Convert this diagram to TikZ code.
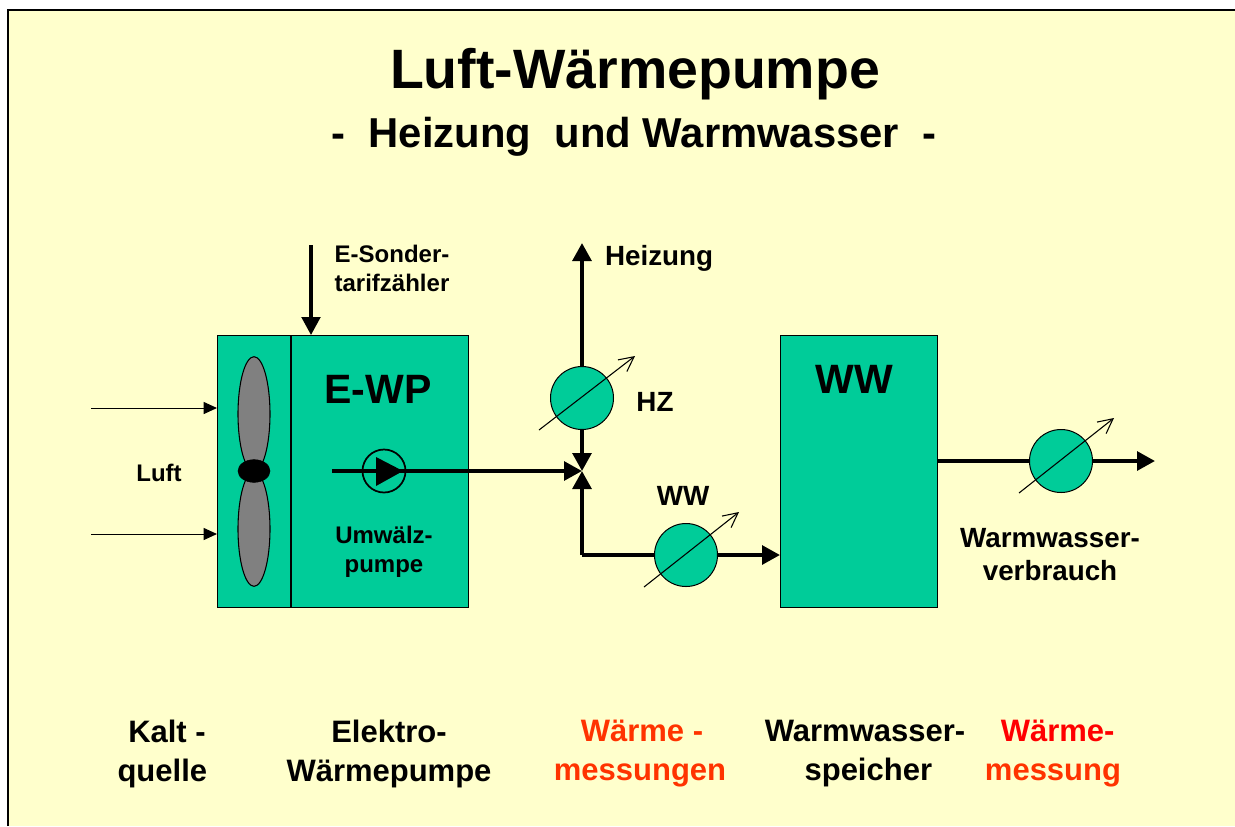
\documentclass[tikz,border=0pt]{standalone}
\usepackage{fontspec}
\setmainfont{Liberation Sans}
\usetikzlibrary{arrows.meta,shapes.geometric}
\definecolor{paper}{HTML}{FFFFCC}
\definecolor{teal}{HTML}{00CC99}
\definecolor{fan}{HTML}{808080}
\definecolor{hot}{HTML}{FF3300}
\newcommand{\fsz}[2]{\fontsize{#1pt}{#2pt}\selectfont\bfseries}
\tikzset{
  x=0.75pt,y=-0.75pt,
  lbl/.style={inner sep=0pt,outer sep=0pt,align=center,text=black},
  titlelbl/.style={lbl,font=\fsz{41.6}{50}},
  sublbl/.style={lbl,font=\fsz{31.35}{36}},
  biglbl/.style={lbl,font=\fsz{30.75}{36}},
  footlbl/.style={lbl,font=\fsz{23.25}{29.25}},
  midlbl/.style={lbl,font=\fsz{20.85}{24.75}},
  smalllbl/.style={lbl,font=\fsz{18}{21.75}},
  unit/.style={draw=black,line width=0.7pt,fill=teal,inner sep=0pt,outer sep=0pt},
  meter/.style={circle,draw=black,line width=0.75pt,fill=teal,minimum size=47.25pt,inner sep=0pt,outer sep=0pt},
  pumpc/.style={circle,draw=black,line width=1.3pt,fill=teal,minimum size=32.25pt,inner sep=0pt,outer sep=0pt},
  pipe/.style={draw=black,line width=3pt,line cap=butt},
  pipetip/.style={pipe,-{Triangle[length=13.5pt,width=14pt]}},
  thinarrow/.style={draw=black,line width=0.75pt,-{Triangle[length=10pt,width=9pt]}},
  dial/.style={draw=black,line width=0.8pt,-{Straight Barb[length=11pt,width=11pt,line width=0.8pt]}},
  blade/.style={ellipse,draw=black,line width=0.8pt,fill=fan}
}
\begin{document}
\begin{tikzpicture}
\useasboundingbox (0,0) rectangle (1235,826);
\fill[white] (0,0) rectangle (1235,826);
\fill[paper] (8,10) rectangle (1235,826);
\draw[black,line width=1.5pt] (8,826) -- (8,10) -- (1235,10);

\node[titlelbl] (title) at (635,74.5) {Luft-Wärmepumpe};
\node[sublbl] (subtitle) at (634,136.5) {-\ \ Heizung\ \ und Warmwasser\ \ -};

% units
\node[unit,minimum width=188.25pt,minimum height=204pt] (ewp) at (342.5,471) {};
\node[unit,minimum width=117.75pt,minimum height=204pt] (wwbox) at (858.5,471) {};
\coordinate (divtop) at (291,335);
\coordinate (divbot) at (291,607);
\draw[black,line width=0.8pt] (divtop) -- (divbot);

% fan
\node[blade,minimum width=24pt,minimum height=86pt,inner sep=0pt] (bladeup) at (254,414) {};
\node[blade,minimum width=24pt,minimum height=86pt,inner sep=0pt] (bladedown) at (254,529) {};
\node[ellipse,fill=black,draw=black,minimum width=24pt,minimum height=17pt,inner sep=0pt] (hub) at (254,471) {};

% air
\coordinate (airA) at (91,408);
\coordinate (airB) at (91,534);
\coordinate (airAend) at (217,408);
\coordinate (airBend) at (217,534);
\draw[thinarrow] (airA) -- (airAend);
\draw[thinarrow] (airB) -- (airBend);

% electricity
\coordinate (estart) at (311,245);
\coordinate (eend) at (311,335);
\draw[pipetip,line width=2.4pt] (estart) -- (eend);

% circuits
\coordinate (junction) at (582,471);
\coordinate (pumpstart) at (332,471);
\coordinate (heizend) at (582,243);
\coordinate (corner) at (582,555);
\coordinate (wwin) at (780,555);
\coordinate (wwout) at (937,461);
\coordinate (useend) at (1155,461);

\node[pumpc] (pump) at (384,471) {};
\node[meter] (mhz) at (582,398) {};
\node[meter] (mww) at (686,555) {};
\node[meter] (muse) at (1061,461) {};

\draw[pipe] (pumpstart) -- (pump.center);
\draw[pipetip] (pump.center) -- (junction);
\draw[pipetip] (mhz) -- (junction);
\draw[pipetip] (mhz) -- (heizend);
\draw[pipe] (mww) -- (corner);
\draw[pipetip] (corner) -- (junction);
\draw[pipetip] (mww) -- (wwin);
\draw[pipe] (wwout) -- (muse);
\draw[pipetip] (muse) -- (useend);
\fill[black] (376,457) -- (403,471) -- (376,486) -- cycle;

% dials
\coordinate (dAa) at (539,430);
\coordinate (dAb) at (635,356);
\coordinate (dBa) at (644,587);
\coordinate (dBb) at (739,512);
\coordinate (dCa) at (1019,493);
\coordinate (dCb) at (1114,418);
\draw[dial] (dAa) -- (dAb);
\draw[dial] (dBa) -- (dBb);
\draw[dial] (dCa) -- (dCb);

% labels
\node[biglbl] (lewp) at (378,389) {E-WP};
\node[biglbl] (lww) at (854,379) {WW};
\node[smalllbl] (lluft) at (159,473) {Luft};
\node[smalllbl] (lson) at (392,268) {E-Sonder-\\tarifzähler};
\node[smalllbl] (lumw) at (384,552) {Umwälz-\\pumpe};
\node[midlbl,anchor=west] (lheiz) at (605,258) {Heizung};
\node[midlbl] (lhz) at (655,402) {HZ};
\node[midlbl] (lwwm) at (683,496) {WW};
\node[midlbl] (lverb) at (1050,555) {Warmwasser-\\verbrauch};

\node[footlbl] (fkalt) at (167,754) {Kalt -\\quelle\hspace*{7pt}};
\node[footlbl] (felek) at (389,754) {Elektro-\\Wärmepumpe};
\node[footlbl,text=hot] (fmess) at (640,754) {\hspace*{3pt}Wärme -\\messungen};
\node[footlbl] (fspei) at (865,754) {Warmwasser-\\\hspace*{5pt}speicher};
\node[footlbl] (fwm) at (1053,754) {\hspace*{7pt}\textcolor{red}{Wärme-}\\\textcolor{hot}{messung}};
\end{tikzpicture}
\end{document}
